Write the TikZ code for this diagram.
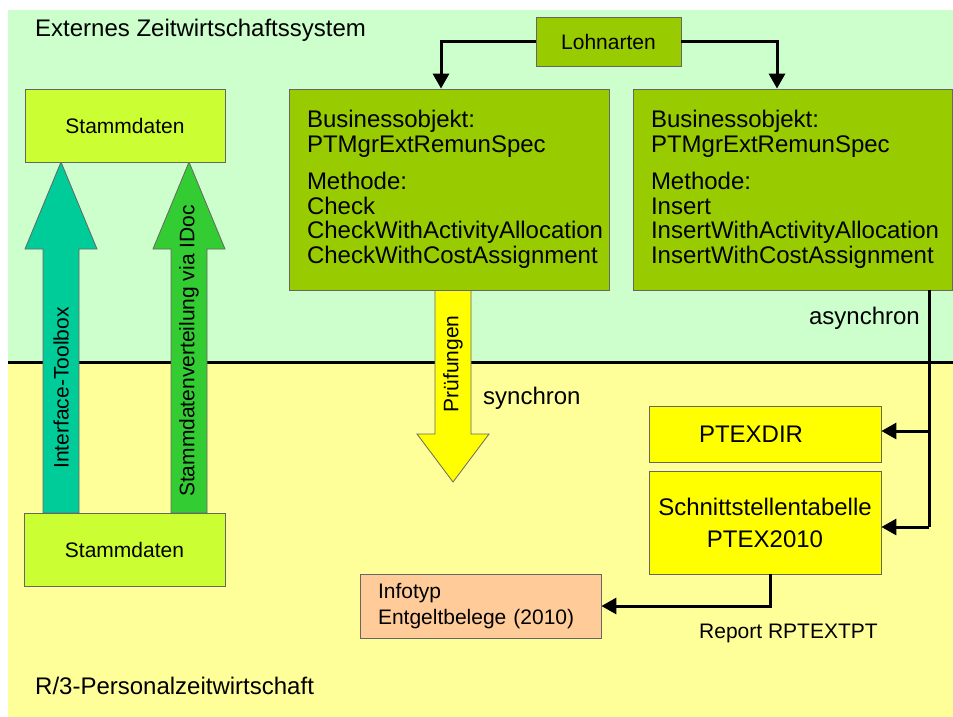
\documentclass[tikz,border=0pt]{standalone}
\usepackage{fontspec}
\setmainfont{Liberation Sans}
\usetikzlibrary{arrows.meta}

\definecolor{extgreen}{HTML}{CCFFCC}
\definecolor{rthreeyellow}{HTML}{FFFF99}
\definecolor{stamlime}{HTML}{CCFF33}
\definecolor{bogreen}{HTML}{99CC00}
\definecolor{toolteal}{HTML}{00CC99}
\definecolor{idocgreen}{HTML}{33CC33}
\definecolor{checkyellow}{HTML}{FFFF00}
\definecolor{infopeach}{HTML}{FFCC99}

\tikzset{
  box/.style={draw=black!60, line width=0.8pt, inner sep=0pt},
  bigtxt/.style={font=\fontsize{24}{24.5}\selectfont},
  smalltxt/.style={font=\fontsize{21}{26}\selectfont},
  conn/.style={line width=3pt, -{Triangle[length=15pt,width=16pt]}},
  blockarrow/.style={draw=black!60, line width=0.8pt},
}

\begin{document}
\begin{tikzpicture}[x=1pt, y=-1pt]
    \useasboundingbox (0,0) rectangle (953,717);

    % Background areas
    \fill[extgreen] (8,10) rectangle (953,362);
    \fill[rthreeyellow] (8,362) rectangle (953,717);
    \draw[line width=3pt] (8,362) -- (953,362);

    % Area labels
    \node[bigtxt, anchor=base west, inner sep=0pt] (extlabel) at (35,37) {Externes Zeitwirtschaftssystem};
    \node[bigtxt, anchor=west, inner sep=0pt] (r3label) at (35,686) {R/3-Personalzeitwirtschaft};

    % Block arrows
    \filldraw[blockarrow, fill=toolteal] (43,513) -- (43,249) -- (25,249) -- (61,162) -- (97,249) -- (79,249) -- (79,513) -- cycle;
    \filldraw[blockarrow, fill=idocgreen] (171,513) -- (171,249) -- (153,249) -- (189,162) -- (225,249) -- (207,249) -- (207,513) -- cycle;
    \filldraw[blockarrow, fill=checkyellow] (435,290) -- (435,434) -- (417,434) -- (453,482) -- (489,434) -- (471,434) -- (471,290) -- cycle;
    \node[smalltxt, rotate=90, inner sep=0pt] (toolbox) at (61,388) {Interface-Toolbox};
    \node[smalltxt, rotate=90, inner sep=0pt] (idoc) at (189,351) {Stammdatenverteilung via IDoc};
    \node[smalltxt, rotate=90, inner sep=0pt] (pruef) at (453,364) {Prüfungen};

    % Stammdaten
    \node[box, fill=stamlime, minimum width=200pt, minimum height=73pt, smalltxt] (stamtop) at (125,125.5) {Stammdaten};
    \node[box, fill=stamlime, minimum width=201pt, minimum height=73pt, smalltxt] (stambot) at (124.5,549.5) {Stammdaten};

    % Businessobjekte
    \node[box, fill=bogreen, minimum width=145pt, minimum height=49pt, smalltxt] (lohn) at (608.5,41.5) {Lohnarten};
    \node[box, fill=bogreen, minimum width=320pt, minimum height=201pt, text width=284pt, inner xsep=18pt, align=left, bigtxt] (bocheck) at (449,189.5)
        {Businessobjekt:\\PTMgrExtRemunSpec\\[13pt]Methode:\\Check\\CheckWithActivityAllocation\\CheckWithCostAssignment};
    \node[box, fill=bogreen, minimum width=319pt, minimum height=201pt, text width=283pt, inner xsep=18pt, align=left, bigtxt] (boinsert) at (792.5,189.5)
        {Businessobjekt:\\PTMgrExtRemunSpec\\[13pt]Methode:\\Insert\\InsertWithActivityAllocation\\InsertWithCostAssignment};

    % Tabellen
    \node[box, fill=checkyellow, minimum width=232pt, minimum height=56pt, text width=132pt, inner xsep=50pt, align=left, bigtxt] (ptexdir) at (765,434.5) {PTEXDIR};
    \node[box, fill=checkyellow, minimum width=232pt, minimum height=103pt, align=center, font=\fontsize{24}{32}\selectfont] (schnitt) at (765,522.5) {Schnittstellentabelle\\PTEX2010};
    \node[box, fill=infopeach, minimum width=241pt, minimum height=64pt, text width=205pt, inner xsep=18pt, align=left, font=\fontsize{21}{26}\selectfont] (infotyp) at (480.5,606) {Infotyp\\Entgeltbelege (2010)};

    % Connectors
    \draw[conn] (lohn.west) -| ([xshift=-8pt]bocheck.north);
    \draw[conn] (lohn.east) -| ([xshift=-15.5pt]boinsert.north);
    \coordinate (tapdir) at (929,431);
    \coordinate (taptab) at (929,527);
    \draw[line width=3pt] ([xshift=136.5pt]boinsert.south) -- (taptab);
    \draw[conn] (tapdir) -- (tapdir -| ptexdir.east);
    \draw[conn] (taptab) -- (taptab -| schnitt.east);
    \draw[conn] ([xshift=5pt]schnitt.south) |- (infotyp.east);

    % Labels
    \node[bigtxt, anchor=west, inner sep=0pt] (synlabel) at (483,398) {synchron};
    \node[bigtxt, anchor=east, inner sep=0pt] (asynlabel) at (920,318) {asynchron};
    \node[smalltxt, anchor=west, inner sep=0pt] (report) at (699,633) {Report RPTEXTPT};
\end{tikzpicture}
\end{document}
